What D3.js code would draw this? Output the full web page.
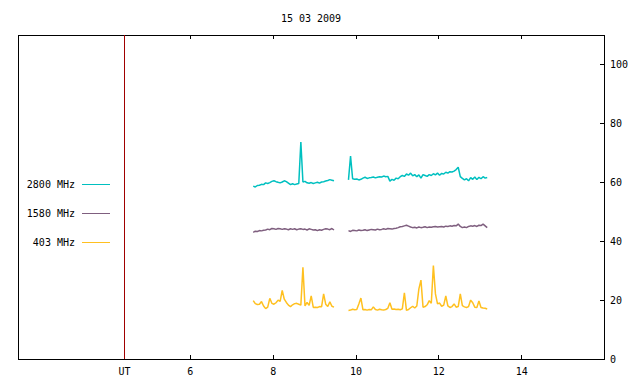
<!DOCTYPE html>
<html>
<head>
<meta charset="utf-8">
<script src="https://cdn.jsdelivr.net/npm/d3@7"></script>
<style>
  body { margin: 0; background: #fff; }
  text { font-family: "DejaVu Sans Mono", monospace; font-size: 10px; fill: #000; }
</style>
</head>
<body>
<div id="chart"></div>
<script>
// Radio flux, 15 03 2009 (UT hours)
const title = "15 03 2009";
const xTicks = [6, 8, 10, 12, 14];
const yTicks = [0, 20, 40, 60, 80, 100];
const utMark = 4.42;

// two observing runs, sampled every 0.05 h
const run1Start = 7.53, run2Start = 9.83, sampleStep = 0.05;

const f2800a = [58.7, 58.4, 58.9, 59.0, 59.3, 59.2, 59.8, 59.6, 59.9, 60.3,
  60.5, 60.2, 60.0, 59.8, 60.1, 60.5, 60.2, 59.7, 59.2, 59.5,
  59.2, 59.4, 59.6, 73.7, 60.1, 60.3, 59.8, 59.7, 59.9, 59.6,
  59.8, 60.0, 59.7, 60.1, 60.2, 60.4, 60.6, 60.9, 60.7, 60.5];
const f2800b = [60.8, 68.9, 61.2, 61.0, 61.1, 60.8, 61.0, 61.4, 61.7, 61.3,
  61.5, 61.6, 61.8, 61.5, 61.7, 61.9, 61.8, 62.1, 61.9, 62.0,
  60.4, 61.0, 60.7, 61.4, 61.2, 61.9, 62.3, 62.0, 62.8, 62.4,
  63.1, 62.2, 62.6, 61.9, 62.5, 61.4, 62.6, 62.3, 62.0, 62.6,
  62.3, 62.9, 62.5, 63.1, 62.4, 63.0, 62.8, 63.4, 63.1, 63.6,
  63.5, 63.8, 64.3, 65.1, 61.9, 61.3, 60.8, 61.2, 60.5, 61.6,
  61.0, 61.8, 60.9, 61.7, 61.2, 61.9, 61.4, 61.6];

const f1580a = [43.0, 43.4, 43.3, 43.6, 43.5, 43.7, 43.8, 44.1, 43.9, 44.3,
  44.2, 44.0, 44.3, 44.2, 44.0, 44.2, 44.1, 43.9, 44.2, 44.0,
  44.2, 43.9, 44.1, 44.2, 44.0, 44.1, 43.8, 44.2, 44.0, 43.8,
  43.9, 43.6, 43.9, 43.7, 44.0, 44.2, 44.1, 43.9, 44.3, 43.8];
const f1580b = [43.6, 43.3, 43.7, 43.6, 43.5, 43.8, 43.6, 43.7, 43.9, 43.6,
  43.8, 44.0, 43.9, 43.8, 44.1, 43.9, 44.0, 44.2, 44.0, 44.3,
  44.2, 44.1, 44.3, 44.4, 44.6, 44.9, 45.0, 45.2, 45.4, 45.1,
  44.8, 44.6, 44.7, 44.5, 44.8, 44.6, 44.7, 44.9, 44.6, 44.8,
  44.7, 44.9, 45.0, 44.8, 44.9, 45.0, 44.8, 45.1, 45.0, 45.2,
  45.1, 45.3, 45.2, 45.8, 45.0, 44.6, 44.8, 44.6, 45.0, 45.2,
  45.1, 45.3, 45.0, 45.4, 45.3, 45.8, 45.2, 44.6];

const f403a = [19.8, 18.8, 18.5, 18.6, 19.5, 18.0, 17.1, 17.6, 20.6, 18.9,
  18.6, 19.1, 20.0, 19.6, 23.3, 20.3, 19.2, 18.3, 17.8, 18.4,
  18.8, 18.9, 18.6, 18.3, 31.1, 18.0, 19.2, 18.2, 21.4, 17.5,
  17.6, 17.5, 17.8, 17.7, 22.1, 18.6, 17.8, 19.4, 17.9, 17.6];
const f403b = [16.5, 16.6, 16.9, 16.7, 16.8, 18.7, 20.7, 16.7, 16.8, 16.6,
  16.8, 16.7, 17.7, 16.8, 16.6, 16.9, 16.7, 16.6, 16.8, 17.2,
  19.1, 16.9, 17.0, 16.8, 16.9, 16.7, 17.0, 22.5, 16.5, 16.8,
  17.4, 17.9, 17.3, 18.0, 23.8, 26.8, 17.6, 17.8, 18.4, 19.8,
  18.9, 31.7, 22.1, 18.7, 19.0, 17.9, 18.3, 21.4, 18.0, 17.5,
  17.8, 18.7, 17.6, 17.8, 22.1, 18.1, 17.7, 17.5, 17.8, 20.0,
  19.1, 17.6, 17.5, 19.7, 17.5, 17.3, 17.2, 17.0];

const seriesNames = ["2800 MHz", "1580 MHz", "403 MHz"];
const seriesColors = ["#00c0c0", "#7f5f7f", "#ffc020"];
const seriesRuns = [[f2800a, f2800b], [f1580a, f1580b], [f403a, f403b]];

(function() {
const W = 640, H = 384;
const left = 18, right = 604, top = 35, bottom = 359;

const svg = d3.select("#chart")
  .append("svg")
  .attr("width", W)
  .attr("height", H);

const x = d3.scaleLinear().domain([1.85, 16]).range([left, right]);
const y = d3.scaleLinear().domain([0, 110]).range([bottom, top]);

// title
svg.append("text")
  .attr("x", (left + right) / 2)
  .attr("y", 22)
  .attr("text-anchor", "middle")
  .text(title);

// axes, ticks pointing inward like gnuplot
const xb = svg.append("g")
  .attr("transform", `translate(0,${bottom})`)
  .call(d3.axisBottom(x).tickValues(xTicks).tickSize(-4).tickPadding(9));
const xt = svg.append("g")
  .attr("transform", `translate(0,${top})`)
  .call(d3.axisTop(x).tickValues(xTicks).tickSize(-4).tickFormat(""));
const yr = svg.append("g")
  .attr("transform", `translate(${right},0)`)
  .call(d3.axisRight(y).tickValues(yTicks).tickSize(-4).tickPadding(6));

[xb, xt, yr].forEach(g => {
  g.select(".domain").remove();
  g.selectAll("line").attr("stroke", "#000").attr("shape-rendering", "crispEdges");
  g.attr("font-family", null).attr("font-size", null);
});

// frame
svg.append("rect")
  .attr("x", left + 0.5)
  .attr("y", top + 0.5)
  .attr("width", right - left)
  .attr("height", bottom - top)
  .attr("fill", "none")
  .attr("stroke", "#000")
  .attr("shape-rendering", "crispEdges");

// UT marker
svg.append("line")
  .attr("x1", x(utMark)).attr("x2", x(utMark))
  .attr("y1", top).attr("y2", bottom)
  .attr("stroke", "#a00000")
  .attr("shape-rendering", "crispEdges");
svg.append("text")
  .attr("x", x(utMark))
  .attr("y", bottom + 9)
  .attr("dy", "0.71em")
  .attr("text-anchor", "middle")
  .text("UT");

// data lines
const line = d3.line().x(d => x(d.t)).y(d => y(d.v));
seriesRuns.forEach((runs, si) => {
  runs.forEach((vals, ri) => {
    const t0 = ri === 0 ? run1Start : run2Start;
    const pts = vals.map((v, i) => ({ t: t0 + i * sampleStep, v: v }));
    svg.append("path")
      .datum(pts)
      .attr("fill", "none")
      .attr("stroke", seriesColors[si])
      .attr("stroke-width", 1.5)
      .attr("stroke-linejoin", "bevel")
      .attr("d", line);
  });
});

// legend
const legend = svg.append("g");
seriesNames.forEach((name, i) => {
  const ly = 184 + i * 29;
  legend.append("text")
    .attr("x", 75)
    .attr("y", ly)
    .attr("dy", "0.35em")
    .attr("text-anchor", "end")
    .text(name);
  legend.append("line")
    .attr("x1", 82).attr("x2", 110)
    .attr("y1", ly + 0.5).attr("y2", ly + 0.5)
    .attr("stroke", seriesColors[i])
    .attr("shape-rendering", "crispEdges");
});
})();
</script>
</body>
</html>
